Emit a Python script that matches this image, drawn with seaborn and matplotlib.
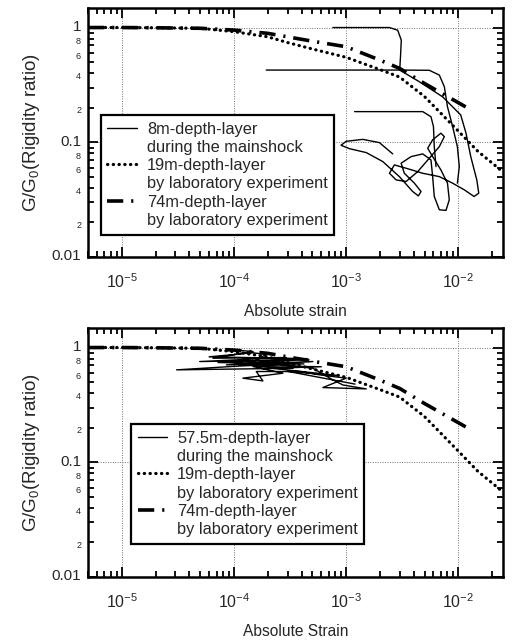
import numpy as np
import pandas as pd
import seaborn as sns
import matplotlib
matplotlib.use("Agg")
import matplotlib.pyplot as plt
from matplotlib.lines import Line2D
from matplotlib.transforms import ScaledTranslation
from matplotlib.ticker import LogLocator, FixedLocator, FixedFormatter, NullFormatter

# ---------------- data ----------------
strain_19 = [5e-6, 1e-5, 2e-5, 5e-5, 1e-4, 2e-4, 3e-4, 5e-4, 1e-3, 2e-3, 3e-3, 5e-3, 1e-2, 1.5e-2, 2e-2, 2.5e-2]
g_19 = [1.0, 1.0, 0.995, 0.985, 0.92, 0.83, 0.74, 0.65, 0.55, 0.43, 0.37, 0.25, 0.125, 0.083, 0.066, 0.055]

strain_74 = [5e-6, 1e-5, 2e-5, 5e-5, 1e-4, 2e-4, 3e-4, 5e-4, 1e-3, 2e-3, 3e-3, 5e-3, 1.2e-2]
g_74 = [1.0, 1.0, 0.995, 0.985, 0.95, 0.89, 0.83, 0.76, 0.68, 0.52, 0.44, 0.325, 0.2]

# 8m-depth-layer during the mainshock (three traced strokes)
m8_seg = [1] * 56 + [2] * 10 + [3] * 6
m8_strain = [
    7.6e-4, 2.43e-3, 2.88e-3, 3.1e-3, 3.05e-3, 3.0e-3, 4.49e-3, 7.24e-3, 1.05e-2, 1.17e-2,
    1.29e-2, 1.46e-2, 1.52e-2, 1.38e-2, 1.13e-2, 8.89e-3, 6.77e-3, 4.81e-3, 3.42e-3, 2.69e-3,
    2.43e-3, 2.79e-3, 3.42e-3, 4.35e-3, 5.51e-3, 6.77e-3, 7.5e-3, 6.99e-3, 5.9e-3, 5.33e-3,
    5.9e-3, 6.99e-3, 8.0e-3, 8.3e-3, 7.76e-3, 6.77e-3, 6.1e-3, 5.9e-3, 5.7e-3, 4.81e-3,
    3.79e-3, 3.09e-3, 3.3e-3, 4.06e-3, 4.65e-3, 4.4e-3, 3.92e-3, 2.98e-3, 2.12e-3, 1.51e-3,
    1.07e-3, 9.0e-4, 1.0e-3, 1.41e-3, 1.98e-3, 2.6e-3,
    1.94e-4, 2.98e-3, 5.51e-3, 6.77e-3, 7.5e-3, 8.0e-3, 8.89e-3, 9.8e-3, 1.02e-2, 9.8e-3,
    1.19e-3, 4.81e-3, 5.7e-3, 6.0e-3, 6.1e-3, 6.32e-3,
]
m8_g = [
    1.0, 1.0, 0.948, 0.776, 0.556, 0.426, 0.337, 0.249, 0.173, 0.12,
    0.075, 0.047, 0.036, 0.0337, 0.0385, 0.044, 0.0502, 0.0537, 0.0594, 0.0635,
    0.0537, 0.047, 0.0455, 0.0556, 0.0726, 0.0917, 0.112, 0.12, 0.105, 0.0887,
    0.075, 0.0574, 0.044, 0.0315, 0.0255, 0.0258, 0.0337, 0.0502, 0.0702, 0.0792,
    0.075, 0.0657, 0.0537, 0.044, 0.0372, 0.0341, 0.0372, 0.0502, 0.0679, 0.0813,
    0.088, 0.0942, 0.102, 0.106, 0.0993, 0.0792,
    0.426, 0.426, 0.424, 0.385, 0.305, 0.204, 0.137, 0.0917, 0.0614, 0.044,
    0.185, 0.185, 0.167, 0.137, 0.0917, 0.0614,
]

# 57.5m-depth-layer during the mainshock
m57_strain = [
    9.8e-5, 1.48e-4, 6.5e-5, 2.93e-4, 4.95e-5, 3.85e-4, 8.56e-5, 5.05e-4, 3.08e-5, 3.36e-4,
    1.48e-4, 2.73e-4, 1.2e-4, 1.81e-4, 1.58e-4, 3.85e-4, 5.8e-4, 7.6e-4, 1.0e-3, 6.2e-4,
    1.51e-3, 9.34e-4, 7.6e-4, 5.05e-4, 2.73e-4, 1.58e-4, 1.94e-4, 1.48e-4,
    6.0e-5, 4.5e-4, 7.2e-5, 4.2e-4, 1.1e-4, 6.0e-4, 2.2e-4, 8.5e-4, 3.0e-4, 1.2e-3,
]
m57_g = [
    0.954, 0.923, 0.807, 0.818, 0.755, 0.78, 0.706, 0.755, 0.639, 0.66,
    0.683, 0.597, 0.541, 0.512, 0.618, 0.618, 0.578, 0.559, 0.541, 0.448,
    0.436, 0.472, 0.523, 0.66, 0.706, 0.78, 0.87, 0.9,
    0.83, 0.8, 0.74, 0.72, 0.7, 0.68, 0.66, 0.57, 0.62, 0.48,
]

measured_labels = [["8m-depth-layer", "during the mainshock"],
                   ["57.5m-depth-layer", "during the mainshock"]]
lab_labels = [["19m-depth-layer", "by laboratory experiment"],
              ["74m-depth-layer", "by laboratory experiment"]]
xlabels = ["Absolute strain", "Absolute Strain"]
ylabel = "G/G$_0$(Rigidity ratio)"
xtick_labels = ["$10^{-5}$", "$10^{-4}$", "$10^{-3}$", "$10^{-2}$"]

# ---------------- style ----------------
sns.set_theme(style="ticks")
plt.rcParams["font.family"] = ["Liberation Sans", "DejaVu Sans"]
plt.rcParams["mathtext.default"] = "regular"
plt.rcParams["axes.unicode_minus"] = False

fig = plt.figure(figsize=(5.15, 6.4), dpi=100)
ax1 = fig.add_axes([0.1709, 0.5984, 0.8058, 0.3891])
ax2 = fig.add_axes([0.1709, 0.0984, 0.8058, 0.3891])

dot_style = (0, (0.1, 1.7))
dashdot_style = (0, (4.5, 2.2, 0.6, 2.2))

def draw_lab(ax):
    sns.lineplot(x=strain_19, y=g_19, ax=ax, color="black", lw=2.3, linestyle=dot_style,
                 dash_capstyle="round", sort=False, estimator=None, legend=False, zorder=3)
    sns.lineplot(x=strain_74, y=g_74, ax=ax, color="black", lw=2.6, linestyle=dashdot_style,
                 sort=False, estimator=None, legend=False, zorder=3)

def style_axes(ax, xlabel):
    ax.set_xscale("log")
    ax.set_yscale("log")
    ax.set_xlim(5e-6, 2.5e-2)
    ax.set_ylim(0.01, 1.48)
    ax.xaxis.set_major_locator(FixedLocator([1e-5, 1e-4, 1e-3, 1e-2]))
    ax.xaxis.set_major_formatter(FixedFormatter(xtick_labels))
    ax.xaxis.set_minor_locator(LogLocator(base=10, subs=np.arange(2, 10), numticks=20))
    ax.xaxis.set_minor_formatter(NullFormatter())
    ax.yaxis.set_major_locator(FixedLocator([0.01, 0.1, 1]))
    ax.yaxis.set_major_formatter(FixedFormatter(["0.01", "0.1", "1"]))
    minors = [m * d for d in (0.01, 0.1) for m in range(2, 10)]
    mlabels = [str(m) if m in (2, 4, 6, 8) else "" for d in (0.01, 0.1) for m in range(2, 10)]
    ax.yaxis.set_minor_locator(FixedLocator(minors))
    ax.yaxis.set_minor_formatter(FixedFormatter(mlabels))
    ax.tick_params(which="both", direction="in", top=True, right=True, color="black", width=1.3)
    ax.tick_params(which="major", length=7, labelsize=11, pad=5)
    ax.tick_params(which="minor", length=4)
    ax.tick_params(axis="y", which="minor", labelsize=6.5, pad=5)
    ax.tick_params(axis="x", which="major", labelsize=11.5, pad=11)
    ax.grid(True, which="major", color="0.45", linestyle=(0, (1, 1.5)), lw=0.7, zorder=0)
    for s in ax.spines.values():
        s.set_color("black")
        s.set_linewidth(1.8)
    ax.set_xlabel(xlabel, fontsize=11.2, labelpad=9)
    ax.set_ylabel(ylabel, fontsize=13.5, labelpad=7)
    up = ScaledTranslation(0, 1.6 / 72, fig.dpi_scale_trans)
    down = ScaledTranslation(0, -1.6 / 72, fig.dpi_scale_trans)
    for t in ax.yaxis.get_major_ticks():
        t.label1.set_transform(t.label1.get_transform() + up)
    for t in ax.yaxis.get_minor_ticks():
        t.label1.set_transform(t.label1.get_transform() + down)

# top panel
df8 = pd.DataFrame({"strain": m8_strain, "g": m8_g, "seg": m8_seg})
sns.lineplot(data=df8, x="strain", y="g", units="seg", estimator=None, sort=False,
             ax=ax1, color="black", lw=1.0, legend=False, zorder=2)
draw_lab(ax1)
style_axes(ax1, xlabels[0])

# bottom panel
sns.lineplot(x=m57_strain, y=m57_g, ax=ax2, color="black", lw=1.0, sort=False,
             estimator=None, legend=False, zorder=2)
draw_lab(ax2)
style_axes(ax2, xlabels[1])

def make_legend(ax, label0, anchor):
    blank = Line2D([], [], color="none")
    handles = [
        Line2D([], [], color="black", lw=1.0), blank,
        Line2D([], [], color="black", lw=2.3, linestyle=dot_style, dash_capstyle="round"), blank,
        Line2D([], [], color="black", lw=2.6, linestyle=dashdot_style), blank,
    ]
    labels = label0 + lab_labels[0] + lab_labels[1]
    leg = ax.legend(handles, labels, loc="upper left", bbox_to_anchor=anchor,
                    fontsize=11.8, frameon=True, fancybox=False, framealpha=1,
                    edgecolor="black", borderpad=0.4, labelspacing=0.2,
                    handlelength=1.8, handletextpad=0.6, borderaxespad=0)
    leg.get_frame().set_linewidth(1.6)
    leg.set_zorder(5)

make_legend(ax1, measured_labels[0], (0.031, 0.570))
make_legend(ax2, measured_labels[1], (0.104, 0.614))

fig.savefig("out.png", dpi=100)
